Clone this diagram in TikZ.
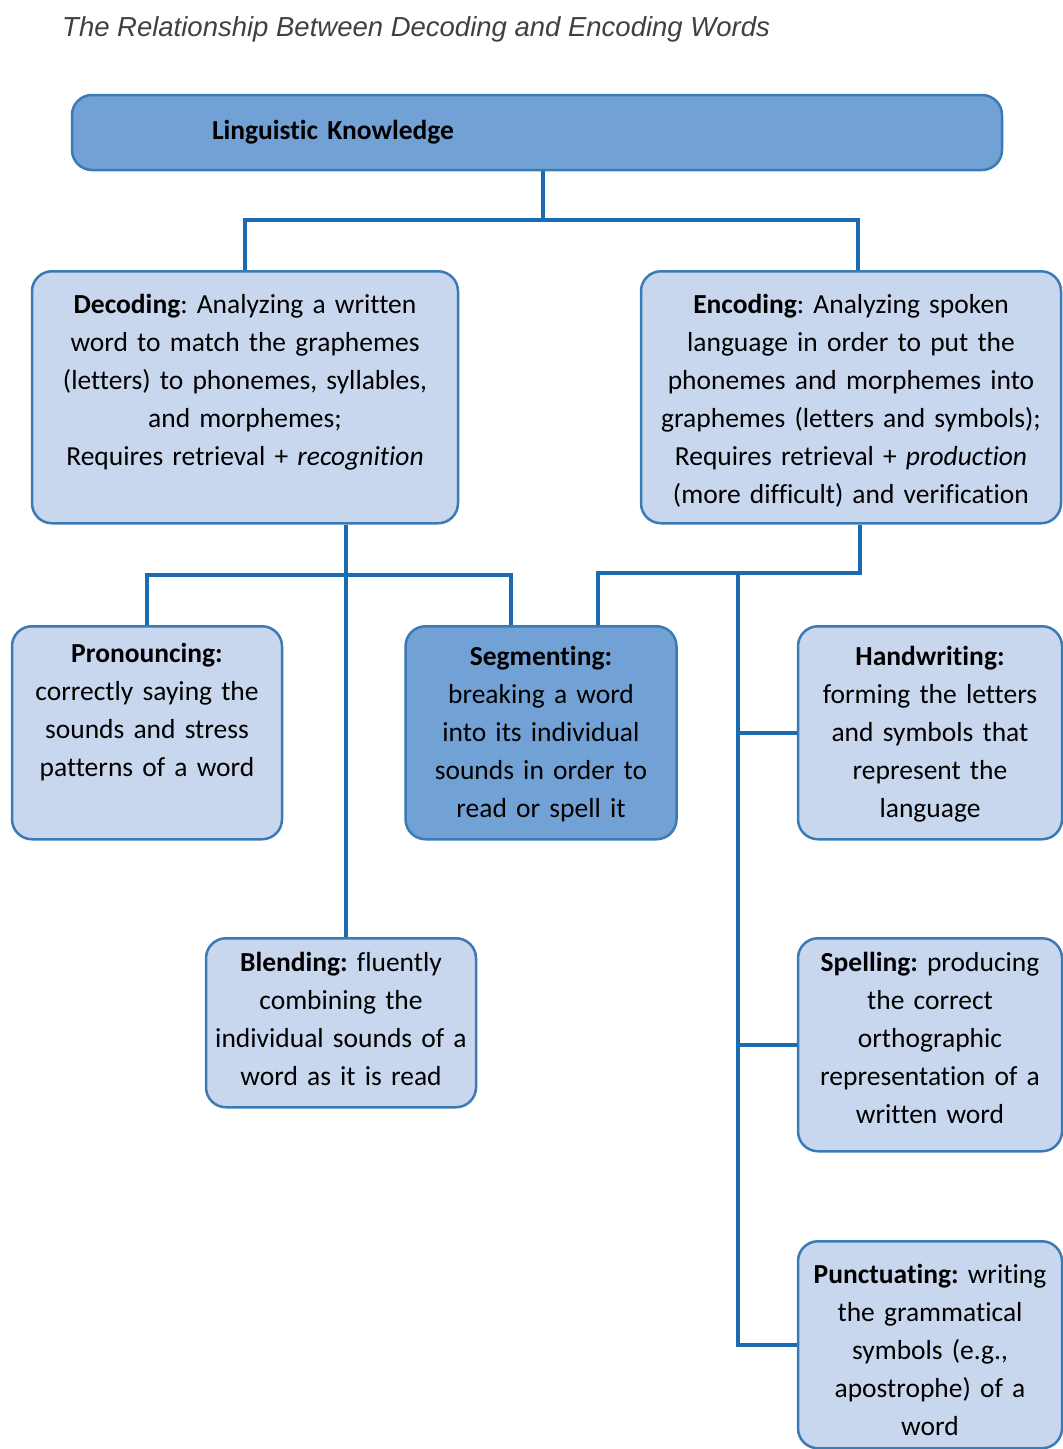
\documentclass[tikz,border=0pt]{standalone}
\usepackage{fontspec}
\setmainfont{Carlito}[Ligatures=NoCommon]
\newfontfamily\titlefont{Liberation Sans}
\usetikzlibrary{positioning}
\definecolor{boxline}{HTML}{3A7AB5}
\definecolor{linkblue}{HTML}{1A6BB0}
\definecolor{lightfill}{HTML}{C8D7EE}
\definecolor{darkfill}{HTML}{72A1D6}
\frenchspacing

\begin{document}
\begin{tikzpicture}[x=1pt, y=-1pt,
	b/.style={draw=boxline, line width=2.5pt, rounded corners=20pt, fill=lightfill, align=center,
		inner xsep=6pt, inner ysep=0pt, anchor=north, font=\fontsize{27.5}{38}\selectfont},
	link/.style={draw=linkblue, line width=4pt}]
	\useasboundingbox (0,0) rectangle (1063,1449);

	\node[anchor=base west, inner sep=0pt, text=black!75,
		font=\titlefont\itshape\fontsize{27.5}{33}\selectfont] (title) at (62,36)
		{The Relationship Between Decoding and Encoding Words};

	% top box
	\node[b, anchor=center, fill=darkfill, align=left, text width=650pt, inner xsep=140pt,
		minimum height=75pt] (lk) at (537,132.5) {\textbf{Linguistic Knowledge}};

	% second row
	\node[b, text width=414pt, text height=42pt, text depth=210pt] (dec) at (245,270)
		{\textbf{Decoding}: Analyzing a written\\ word to match the graphemes\\
		 (letters) to phonemes, syllables,\\ and morphemes;\\ Requires retrieval + \textit{recognition}};
	\node[b, text width=408pt, text height=42pt, text depth=210pt] (enc) at (851,270)
		{\textbf{Encoding}: Analyzing spoken\\ language in order to put the\\
		 phonemes and morphemes into\\ graphemes (letters and symbols);\\
		 Requires retrieval + \textit{production}\\ (more difficult) and verification};

	% third row
	\node[b, text width=258pt, text height=36pt, text depth=177pt] (pron) at (147,625)
		{\textbf{Pronouncing:}\\ correctly saying the\\ sounds and stress\\ patterns of a word};
	\node[b, fill=darkfill, text width=259pt, text height=39pt, text depth=174pt] (seg) at (541,625)
		{\textbf{Segmenting:}\\ breaking a word\\ into its individual\\ sounds in order to\\ read or spell it};
	\node[b, text width=252pt, text height=39pt, text depth=174pt] (hand) at (930,625)
		{\textbf{Handwriting:}\\ forming the letters\\ and symbols that\\ represent the\\ language};

	% lower boxes
	\node[b, text width=258pt, text height=33pt, text depth=136pt] (blend) at (341,937)
		{\textbf{Blending:} fluently\\ combining the\\ individual sounds of a\\ word as it is read};
	\node[b, text width=252pt, text height=33pt, text depth=180pt] (spell) at (930,937)
		{\textbf{Spelling:} producing\\ the correct\\ orthographic\\ representation of a\\ written word};
	\node[b, text width=252pt, text height=42pt, text depth=165pt] (punct) at (930,1240)
		{\textbf{Punctuating:} writing\\ the grammatical\\ symbols (e.g.,\\ apostrophe) of a\\ word};

	\coordinate (kj) at (543,220);
	\coordinate (dj) at (346,575);
	\coordinate (ej) at (738,573);
	\coordinate (bt) at ([xshift=5pt]blend.north);
	\coordinate (et) at ([xshift=7pt]enc.north);
	\coordinate (eb) at ([xshift=9pt]enc.south);
	\coordinate (sl) at ([xshift=-30pt]seg.north);
	\coordinate (sr) at ([xshift=57pt]seg.north);

	\draw[link] (lk.south -| kj) -- (kj);
	\draw[link] (dec.north) |- (kj) -| (et);
	\draw[link] (bt |- dec.south) -- (bt);
	\draw[link] (pron.north) |- (dj) -| (sl);
	\draw[link] (eb) |- (sr |- ej) -- (sr);
	\draw[link] (ej) |- (punct.west);
	\draw[link] (ej |- hand.west) -- (hand.west);
	\draw[link] (ej |- spell.west) -- (spell.west);
\end{tikzpicture}
\end{document}
